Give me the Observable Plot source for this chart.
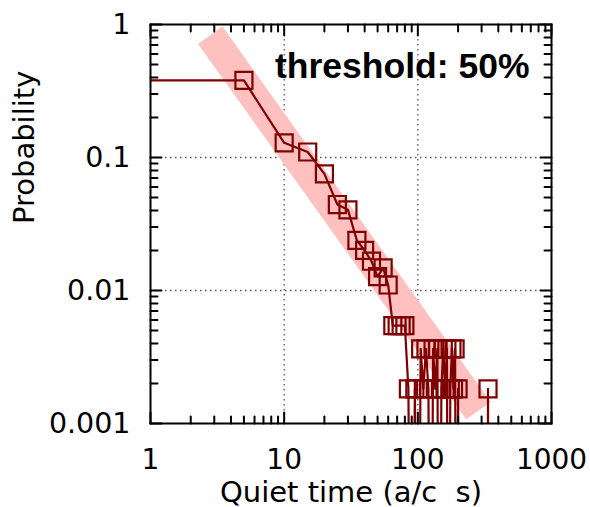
<!DOCTYPE html>
<html><head><meta charset="utf-8">
<script src="https://cdn.jsdelivr.net/npm/d3@7"></script>
<script src="https://cdn.jsdelivr.net/npm/@observablehq/plot@0.6"></script>
<style>body{margin:0;background:#fff} #chart svg{display:block}</style>
</head><body><div id="chart"></div>
<script>
// Quiet-time bins (a/c s) and probability; 0 = empty bin (line drops off the log axis)
const quietTime = [1, 5, 10, 15, 20, 25, 30, 35, 40, 45, 50, 55, 60, 65, 70, 75, 80,
  85, 90, 95, 100, 105, 110, 115, 120, 125, 130, 135, 140, 145, 150, 155, 160, 165, 170,
  175, 180, 185, 190, 195, 200, 205, 330, 335, 340];
const probability = [0.38, 0.38, 0.129, 0.110, 0.0754, 0.0443, 0.0404, 0.0238, 0.0200, 0.0166, 0.0127, 0.0148, 0.0110, 0.00545, 0.00545, 0.00545, 0.00545,
  0.00182, 0, 0.00182, 0, 0.00364, 0.00182, 0.00364, 0.00182, 0, 0.00364, 0.00182, 0.00364, 0, 0.00182, 0.00364, 0.00182, 0.00364, 0,
  0.00182, 0.00364, 0.00182, 0.00364, 0, 0.00182, 0, 0, 0.00182, 0];
// power-law guide band end points
const fitTime = [2.8, 284];
const fitProbability = [0.83, 0.00125];
const xTickValues = [1, 10, 100, 1000];
const xTickLabels = ["1", "10", "100", "1000"];
const yTickValues = [0.001, 0.01, 0.1, 1];
const yTickLabels = ["0.001", "0.01", "0.1", "1"];
const xLabel = ["Quiet time (a/c\u00a0\u00a0s)"];
const yLabel = ["Probability"];
const annotation = ["threshold: 50%"];

const series = quietTime.map((t, i) => ({t, p: probability[i]}));
const fit = fitTime.map((t, i) => ({t, p: fitProbability[i]}));
const xMinor = [], yMinor = [];
for (const d of [1, 10, 100]) for (let k = 2; k <= 9; k++) xMinor.push(d * k);
for (const d of [0.001, 0.01, 0.1]) for (let k = 2; k <= 9; k++) yMinor.push(+(d * k).toPrecision(3));

const tickShape = {draw(ctx, l) { ctx.moveTo(0, 0); ctx.lineTo(0, -l); }};
function ticks(values, ch, anchor, rotate, len) {
  return Plot.vector(values, {[ch]: d => d, frameAnchor: anchor, rotate, length: len, anchor: "start",
    shape: tickShape, stroke: "black", strokeWidth: 2});
}
const dark = "#800000";
const numFont = "DejaVu Sans, sans-serif";

const chart = Plot.plot({
  width: 590, height: 507,
  marginLeft: 150, marginRight: 39, marginTop: 24, marginBottom: 84,
  x: {type: "log", domain: [1, 1000], axis: null},
  y: {type: "log", domain: [0.001, 1], axis: null},
  style: {background: "white"},
  marks: [
    Plot.gridX([10, 100], {stroke: "#555", strokeOpacity: 1, strokeWidth: 1.3, strokeDasharray: "1.5,3.5"}),
    Plot.gridY([0.01, 0.1], {stroke: "#555", strokeOpacity: 1, strokeWidth: 1.3, strokeDasharray: "1.5,3.5"}),
    Plot.line(fit, {x: "t", y: "p", stroke: "#ffc0c0", strokeWidth: 30, strokeLinecap: "butt"}),
    Plot.line(series, {x: "t", y: d => d.p > 0 ? d.p : 1e-6, stroke: dark, strokeWidth: 2.2, clip: true}),
    Plot.dot(series.filter(d => d.t > 1 && d.p > 0), {x: "t", y: "p", symbol: "square", r: 9.6, stroke: dark, strokeWidth: 2.2, fill: "none"}),
    Plot.frame({stroke: "black", strokeWidth: 2}),
    ticks(xTickValues, "x", "bottom", 0, 11),
    ticks(xTickValues, "x", "top", 180, 11),
    ticks(xMinor, "x", "bottom", 0, 7),
    ticks(xMinor, "x", "top", 180, 7),
    ticks(yTickValues, "y", "left", 90, 11),
    ticks(yTickValues, "y", "right", 270, 11),
    ticks(yMinor, "y", "left", 90, 7),
    ticks(yMinor, "y", "right", 270, 7),
    Plot.text(xTickValues, {x: d => d, frameAnchor: "bottom", dy: 26, lineAnchor: "top", text: (d, i) => xTickLabels[i], fontSize: 28, fontFamily: numFont, fill: "black"}),
    Plot.text(yTickValues, {y: d => d, frameAnchor: "left", dx: -20, textAnchor: "end", lineAnchor: "middle", text: (d, i) => yTickLabels[i], fontSize: 28.5, fontFamily: numFont, fill: "black"}),
    Plot.text(xLabel, {frameAnchor: "bottom", dy: 78, lineAnchor: "bottom", text: d => d, fontSize: 29, fontFamily: numFont, fill: "black"}),
    Plot.text(yLabel, {frameAnchor: "left", dx: -126, rotate: -90, lineAnchor: "middle", text: d => d, fontSize: 29, fontFamily: numFont, fill: "black"}),
    Plot.text(annotation, {frameAnchor: "top-right", dx: -22, dy: 53, lineAnchor: "bottom", textAnchor: "end", text: d => d, fontSize: 35.5, fontWeight: "bold", fontFamily: "Liberation Sans, Arial, sans-serif", fill: "black"})
  ]
});
document.getElementById("chart").appendChild(chart);
</script>
</body></html>
